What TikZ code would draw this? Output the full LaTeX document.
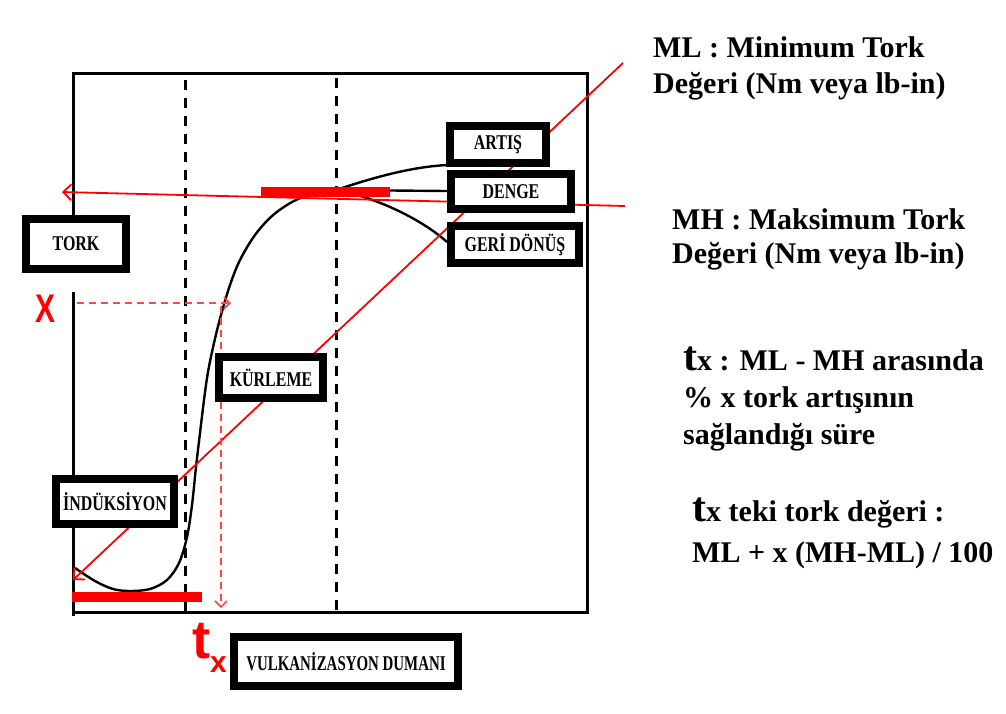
\documentclass[tikz,border=0pt]{standalone}
\usepackage{fontspec}
\usepackage{graphicx}
\setmainfont{Liberation Serif}
\newfontfamily\sansfont{Liberation Sans}
\usetikzlibrary{arrows.meta}
\definecolor{redline}{RGB}{255,0,0}
\definecolor{reddash}{RGB}{255,70,70}
\newcommand\bxt[1]{\scalebox{0.76}[1]{#1}}
\begin{document}
\begin{tikzpicture}[x=1pt,y=-1pt,
  lbl/.style={draw=black, line width=8pt, fill=white, inner sep=0pt,
    font=\bfseries\fontsize{21}{21}\selectfont},
  frameline/.style={line width=3pt, black},
  vdash/.style={line width=3pt, black, dash pattern=on 10pt off 8pt},
  curveline/.style={line width=2.4pt, black},
  redthin/.style={line width=1.8pt, redline},
  redbar/.style={line width=10pt, redline},
  reddashed/.style={line width=1.6pt, reddash, dash pattern=on 7pt off 5pt},
  barb/.style={-{Straight Barb[length=8pt,width=16pt,line width=1.8pt]}},
  smallbarb/.style={-{Straight Barb[length=6pt,width=12pt,line width=1.6pt]}},
  note/.style={anchor=north west, inner sep=0pt, align=left, font=\bfseries\fontsize{30}{36}\selectfont}
]
\useasboundingbox (0,0) rectangle (1006,713);
\fill[white] (0,0) rectangle (1006,713);

% frame
\coordinate (tl) at (73,73);
\coordinate (tr) at (587,73);
\coordinate (br) at (587,612);
\coordinate (bl) at (73,612);
\coordinate (axgapA) at (73,215);
\coordinate (axgapB) at (73,292);
\draw[frameline] (axgapA) -- (tl) -- (tr) -- (br) -- (bl) -- (axgapB);
\draw[frameline] (bl) -- (73,616);

% dashed verticals
\coordinate (d1t) at (185,80);
\coordinate (d1b) at (185,612);
\coordinate (d2t) at (336,78);
\coordinate (d2b) at (336,612);
\draw[vdash] (d1t) -- (d1b);
\draw[vdash] (d2t) -- (d2b);

% cure curve
\coordinate (peak) at (336,190);
\draw[curveline] plot[smooth, tension=0.55] coordinates {(75,568) (95,581) (113,589) (130,591) (150,589) (167,580) (179,563) (187,537) (192,505) (196,467) (200,433) (204,400) (208,372) (214,343) (221,315) (230,285) (240,260) (255,235) (272,216) (292,202) (312,194) (336,190)};
\coordinate (aEnd) at (447,165);
\coordinate (dEnd) at (447,191);
\coordinate (gEnd) at (447,242);
\draw[curveline] (peak) .. controls (372,178) and (410,167) .. (aEnd);
\draw[curveline] (peak) -- (dEnd);
\draw[curveline] (peak) .. controls (380,198) and (425,222) .. (gEnd);

% red bars
\coordinate (b1a) at (261,192);
\coordinate (b1b) at (390,192);
\coordinate (b2a) at (72,597);
\coordinate (b2b) at (202,597);
\draw[redbar] (b1a) -- (b1b);
\draw[redbar] (b2a) -- (b2b);

% red long lines
\coordinate (mlEnd) at (623,63);
\coordinate (mlTip) at (73,580);
\coordinate (mhEnd) at (625,206);
\coordinate (mhTip) at (62,192);
\draw[redthin, barb] (mlEnd) -- (mlTip);
\draw[redthin, barb] (mhEnd) -- (mhTip);

% red dashed arrows
\coordinate (xStart) at (77,303);
\coordinate (xTip) at (231,303);
\coordinate (tStart) at (221,306);
\coordinate (tTip) at (221,608);
\draw[reddashed, smallbarb] (xStart) -- (xTip);
\draw[reddashed, smallbarb] (tStart) -- (tTip);

% boxes
\node[lbl, minimum width=100pt, minimum height=50pt] (tork) at (76,244) {\bxt{TORK}};
\node[lbl, minimum width=96pt, minimum height=37pt] (artis) at (498,144.5) {\bxt{ARTIŞ}};
\node[lbl, minimum width=120pt, minimum height=35pt] (denge) at (511,191.5) {\bxt{DENGE}\hspace{10pt}};
\node[lbl, minimum width=128pt, minimum height=37pt] (geri) at (515,244.5) {\bxt{GERİ DÖNÜŞ}};
\node[lbl, minimum width=104pt, minimum height=41pt] (kurleme) at (271,377.5) {\bxt{KÜRLEME}\hspace{8pt}};
\node[lbl, minimum width=118pt, minimum height=45pt] (induk) at (115,501.5) {\bxt{İNDÜKSİYON}};
\node[lbl, minimum width=224pt, minimum height=49pt] (vulk) at (346,661.5) {\scalebox{0.71}[1]{VULKANİZASYON DUMANI}};

% red markers
\node[inner sep=0pt, text=redline, font=\sansfont\bfseries\fontsize{40}{40}\selectfont] (xmark) at (46,309) {\scalebox{0.75}[1]{X}};
\node[anchor=base west, inner sep=0pt, text=redline, font=\sansfont\bfseries] (txmark) at (192,658)
  {{\fontsize{54}{54}\selectfont t}{\fontsize{30}{30}\selectfont\raisebox{-14pt}{x}}};

% notes
\node[note] (ml) at (653,36) {ML : Minimum Tork\\Değeri (Nm veya lb-in)};
\node[note, font=\bfseries\fontsize{30}{34}\selectfont] (mh) at (672,208) {MH : Maksimum Tork\\Değeri (Nm veya lb-in)};
\node[note, font=\bfseries\fontsize{30}{37}\selectfont] (tx1) at (683,347) {{\fontsize{42}{37}\selectfont t}x : ML - MH arasında\\\% x tork artışının\\sağlandığı süre};
\node[note, font=\bfseries\fontsize{30}{41}\selectfont] (tx2) at (692,498) {{\fontsize{42}{41}\selectfont t}x teki tork değeri :\\ML + x (MH-ML) / 100};
\end{tikzpicture}
\end{document}
